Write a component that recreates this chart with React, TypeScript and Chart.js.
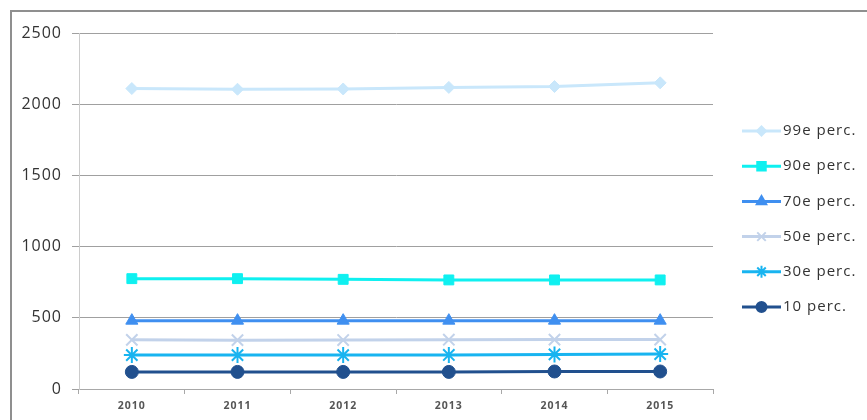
import React, { useEffect, useRef } from "react";
import { Chart, registerables } from "chart.js";
import { drawPoint } from "chart.js/helpers";

Chart.register(...registerables);

const years = ["2010", "2011", "2012", "2013", "2014", "2015"];
const seriesLabels = ["99e perc.", "90e perc.", "70e perc.", "50e perc.", "30e perc.", "10 perc."];
const p99 = [2110, 2105, 2107, 2118, 2124, 2150];
const p90 = [775, 775, 770, 766, 766, 766];
const p70 = [480, 480, 480, 480, 480, 480];
const p50 = [345, 343, 344, 346, 347, 347];
const p30 = [238, 238, 238, 239, 243, 245];
const p10 = [120, 120, 120, 120, 123, 123];
const yTicks = [0, 500, 1000, 1500, 2000, 2500];

const colors = ["#c9e7fb", "#0ff0f0", "#3f8ff0", "#c2d2ea", "#18b4f0", "#21508e"];
const styles = ["rectRot", "rect", "triangle", "crossRot", "star", "circle"];
const radii = [6, 7, 7, 8, 8, 6.5];
const legendRadii = [4.5, 6, 5.5, 6, 6, 5];

const FONT = "'Open Sans', 'Liberation Sans', sans-serif";

const framePlugin = {
  id: "frame",
  beforeDraw(chart: any) {
    const ctx = chart.ctx;
    ctx.letterSpacing = "1px";
    ctx.save();
    ctx.strokeStyle = "#8f8f8f";
    ctx.lineWidth = 2;
    ctx.beginPath();
    ctx.moveTo(11, chart.height + 2);
    ctx.lineTo(11, 11);
    ctx.lineTo(chart.width + 2, 11);
    ctx.stroke();
    ctx.restore();
  },
};

const legendPlugin = {
  id: "customLegend",
  afterDraw(chart: any) {
    const ctx = chart.ctx;
    ctx.save();
    const x0 = 742;
    const x1 = 781;
    chart.data.datasets.forEach((ds: any, i: number) => {
      const y = 131 + i * 35.2;
      ctx.strokeStyle = ds.borderColor;
      ctx.lineWidth = 3;
      ctx.beginPath();
      ctx.moveTo(x0, y);
      ctx.lineTo(x1, y);
      ctx.stroke();
      ctx.fillStyle = ds.pointBackgroundColor;
      ctx.strokeStyle = ds.pointBorderColor;
      ctx.lineWidth = 2;
      drawPoint(ctx, { pointStyle: ds.pointStyle, radius: legendRadii[i], rotation: 0, borderWidth: 2 }, (x0 + x1) / 2, y);
      ctx.fillStyle = "#333";
      ctx.font = `15px ${FONT}`;
      ctx.letterSpacing = "1px";
      ctx.textBaseline = "middle";
      ctx.textAlign = "left";
      ctx.fillText(ds.label, 783, y);
    });
    ctx.restore();
  },
};

export default function App() {
  const ref = useRef<HTMLCanvasElement | null>(null);
  useEffect(() => {
    if (!ref.current) return;
    const all = [p99, p90, p70, p50, p30, p10];
    const chart = new Chart(ref.current, {
      type: "line",
      data: {
        labels: years,
        datasets: all.map((d, i) => ({
          label: seriesLabels[i],
          data: d,
          borderColor: colors[i],
          backgroundColor: colors[i],
          pointBackgroundColor: colors[i],
          pointBorderColor: colors[i],
          pointStyle: styles[i] as any,
          pointRadius: radii[i],
          pointBorderWidth: i === 3 || i === 4 ? 2 : 1,
          borderWidth: 3,
          tension: 0,
          fill: false,
          order: i,
        })),
      },
      options: {
        animation: false,
        responsive: false,
        layout: { padding: { left: 0, right: 154, top: 33, bottom: 0 } },
        plugins: { legend: { display: false }, tooltip: { enabled: false } },
        scales: {
          x: {
            offset: true,
            grid: { display: true, drawOnChartArea: false, drawTicks: true, tickLength: 5, color: "#a8a8a8", offset: true },
            border: { color: "#a8a8a8" },
            ticks: { color: "#555", font: { family: FONT, size: 10.5, weight: "bold" }, padding: 6, maxRotation: 0 },
            afterFit: (s: any) => { s.height = 31; },
          },
          y: {
            min: 0,
            max: 2500,
            afterBuildTicks: (s: any) => { s.ticks = yTicks.map((v) => ({ value: v })); },
            grid: { color: "#a0a0a0", tickLength: 7, drawTicks: true },
            border: { color: "#cccccc" },
            ticks: { color: "#333", font: { family: FONT, size: 16 }, padding: 10, callback: (v: any) => String(v) },
            afterFit: (s: any) => { s.width = 79; },
          },
        },
      },
      plugins: [framePlugin, legendPlugin],
    });
    return () => chart.destroy();
  }, []);
  return (
    <div style={{ position: "fixed", left: 0, top: 0, width: 867, height: 420, background: "#fff" }}>
      <canvas ref={ref} width={867} height={420} style={{ width: 867, height: 420, display: "block" }} />
    </div>
  );
}
